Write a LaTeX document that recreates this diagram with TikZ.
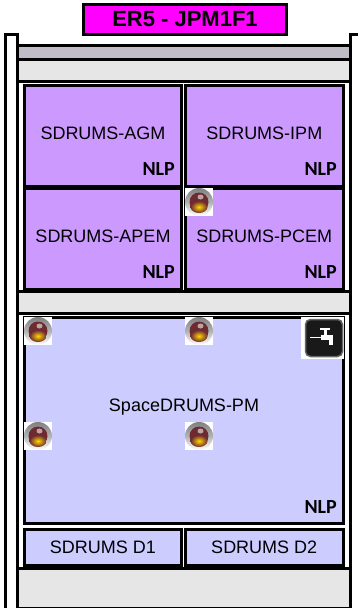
\documentclass[tikz,border=0pt]{standalone}
\usepackage{fontspec}
\setmainfont{Liberation Sans}
\newfontfamily\nlpfont{Carlito}
\definecolor{subfill}{HTML}{CC99FF}
\definecolor{pmfill}{HTML}{CCCCFF}
\definecolor{titlefill}{HTML}{FF00FF}
\definecolor{topband}{HTML}{BFBCC8}
\definecolor{softband}{HTML}{E6E6E6}
\definecolor{firedark}{HTML}{6E2A30}
\tikzset{
  band/.style={draw,line width=3pt,rectangle,inner sep=0pt,minimum width=333pt},
  subsys/.style={draw,line width=3pt,rectangle,inner sep=0pt,fill=subfill,minimum width=157pt,minimum height=101pt,text depth=5pt,font=\fontsize{18}{20}\selectfont},
  drawer/.style={draw,line width=3pt,rectangle,inner sep=0pt,fill=pmfill,minimum width=157pt,minimum height=36pt,font=\fontsize{18}{20}\selectfont},
  nlp/.style={anchor=east,inner sep=0pt,font=\nlpfont\bfseries\fontsize{20}{22}\selectfont},
  fireicon/.pic={
    \fill[white] (0,0) rectangle (28,28);
    \shade[inner color=black!45,outer color=white,middle color=black!30] (14,14) circle (14pt);
    \fill[firedark] (14,14) circle (9.5pt);
    \shade[inner color=yellow!70!orange,outer color=firedark] (14,19) ellipse (8.5pt and 6pt);
    \fill[black!15,opacity=0.7] (15.5,9) ellipse (3pt and 2.5pt);
  },
  tapicon/.pic={
    \fill[white] (0,0) rectangle (43,42);
    \draw[black!60,fill=black!90,line width=1.5pt,rounded corners=5pt] (4.5,2.5) rectangle (41.5,39.5);
    \fill[white] (9,19.5) rectangle (20,21);
    \fill[white] (20,18) rectangle (32,22.5);
    \fill[white] (22.5,12.5) rectangle (25.5,18);
    \fill[white] (19,11) rectangle (29,13);
    \fill[white] (27.5,22.5) rectangle (32,28);
  }
}

\begin{document}
\begin{tikzpicture}[x=1pt,y=-1pt]
  \useasboundingbox (0,0) rectangle (357,608);

  % rails
  \coordinate (railtop) at (5.5,34.5);
  \coordinate (railend) at (17.5,610);
  \coordinate (rtick) at (358,34.5);
  \coordinate (rcorner) at (350.5,34.5);
  \coordinate (rend) at (350.5,610);
  \draw[line width=3pt] (railtop) rectangle (railend);
  \draw[line width=3pt] (rtick)--(rcorner)--(rend);

  \node[band,fill=topband,minimum height=14pt] (grey) at (184,52.5) {};
  \node[band,fill=softband,minimum height=21.8pt] (soft1) at (184,70.4) {};
  \node[band,fill=softband,minimum height=21.5pt] (soft2) at (184,302.25) {};
  \node[band,fill=softband,minimum height=39.5pt] (soft3) at (184,588.25) {};

  \node[draw,line width=3pt,fill=titlefill,minimum width=203pt,minimum height=30pt,inner sep=0pt,font=\bfseries\fontsize{22}{24}\selectfont] (title) at (185,19.5) {ER5 - JPM1F1};

  \node[subsys] (agm) at (103,136) {SDRUMS-AGM};
  \node[subsys,minimum width=157.5pt] (ipm) at (264.25,136) {SDRUMS-IPM};
  \node[subsys,minimum height=100.5pt] (apem) at (103,238.75) {SDRUMS-APEM};
  \node[subsys,minimum width=157.5pt,minimum height=100.5pt] (pcem) at (264.25,238.75) {SDRUMS-PCEM};

  \node[draw,line width=3pt,fill=pmfill,minimum width=318.5pt,minimum height=206.5pt,inner sep=0pt] (pm) at (183.75,420.25) {};
  \node[font=\fontsize{18}{20}\selectfont,inner sep=0pt] (pmtext) at (184,407) {SpaceDRUMS-PM};

  \node[drawer] (d1) at (103,547.5) {SDRUMS D1};
  \node[drawer,minimum width=157.5pt] (d2) at (264.25,547.5) {SDRUMS D2};

  \node[nlp] (nlp1) at (175,169) {NLP};
  \node[nlp] (nlp2) at (337,169) {NLP};
  \node[nlp] (nlp3) at (175,272) {NLP};
  \node[nlp] (nlp4) at (337,272) {NLP};
  \node[nlp] (nlp5) at (337,507) {NLP};

  \pic at (185,188) {fireicon};
  \pic at (24,317) {fireicon};
  \pic at (185,317) {fireicon};
  \pic at (24,422) {fireicon};
  \pic at (185,422) {fireicon};
  \pic at (301,317) {tapicon};
\end{tikzpicture}
\end{document}
